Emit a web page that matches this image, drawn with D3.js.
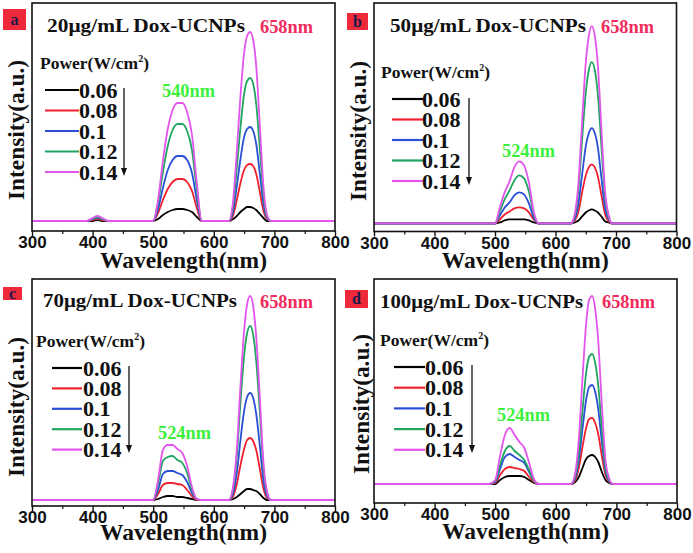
<!DOCTYPE html>
<html><head><meta charset="utf-8">
<script src="https://cdn.jsdelivr.net/npm/d3@7"></script>
<style>html,body{margin:0;padding:0;background:#fff;}svg{display:block;}</style>
</head><body>
<script>
// ---------- DATA ----------
const wavelengths = [300,390,400,408,416,426,490, 500,508,516,524,532,540,548,556,564,572,580, 625,632,638,644,650,655,660,665,670,676,682,688,694,800];
const powerLabels = ['0.06','0.08','0.1','0.12','0.14'];
const concentrations = ['20','50','70','100'];
const panelLetters = ['a','b','c','d'];
const greenPeakLabels = ['540nm','524nm','524nm','524nm'];
const redPeakLabel = '658nm';
const xTicks = [300,400,500,600,700,800];
const xMinorTicks = [350,450,550,650,750];

const intensityA = [
 [0,0,0,1,0,0,0, 0,2,6,9,11,12,12,11,9,4,0, 0,2,5,9,12,14,14,13,11,7,3,0,0,0],
 [0,0,1,2,1,0,0, 0,8,21,32,39,42,42,39,30,13,0, 0,6,21,38,51,56,57,55,47,29,10,2,0,0],
 [0,0,2,3,2,0,0, 0,12,33,51,61,65,65,61,48,21,0, 0,10,35,62,84,92,94,90,77,47,17,3,0,0],
 [0,0,2,4,2,0,0, 0,18,49,75,91,97,97,90,71,31,0, 0,16,53,94,127,140,143,137,117,72,26,4,0,0],
 [0,0,3,5,3,0,0, 0,21,60,92,111,118,118,109,86,38,0, 0,21,70,125,168,185,189,181,155,95,34,6,0,0]
];
const intensityB = [
 [0,0,0,0,0,0,0, 0,1,3,4,4,4,4,3,1,0,0, 0,1,3,7,11,13,14,13,11,7,2,1,0,0],
 [0,0,0,0,0,0,0, 0,4,9,12,15,16,15,11,4,0,0, 0,3,12,31,48,56,59,56,47,28,9,2,0,0],
 [0,0,0,0,0,0,0, 0,8,16,21,28,31,29,20,6,0,0, 0,5,20,49,77,90,95,90,76,45,15,4,0,0],
 [0,0,0,0,0,0,0, 0,12,24,33,43,48,45,32,10,0,0, 0,8,34,84,130,153,161,153,129,76,26,6,0,0],
 [0,0,0,0,0,0,0, 0,16,31,42,56,62,58,41,12,0,0, 0,10,41,102,160,187,197,187,158,93,32,8,0,0]
];
const intensityC = [
 [0,0,0,0,0,0,0, 0,1,3,4,4,3,3,2,1,0,0, 0,1,3,6,9,11,11,10,9,6,2,0,0,0],
 [0,0,0,0,0,0,0, 0,6,15,17,17,16,15,10,4,0,0, 0,4,16,35,51,60,62,59,50,31,11,2,0,0],
 [0,0,0,0,0,0,0, 0,10,26,29,29,27,25,18,7,1,0, 0,7,27,60,89,103,107,102,86,54,19,4,0,0],
 [0,0,0,0,0,0,0, 0,16,39,43,44,40,37,27,10,1,0, 0,12,44,97,144,167,174,165,139,87,31,7,0,0],
 [0,0,0,0,0,0,0, 0,20,50,55,55,51,47,34,13,1,0, 0,14,51,114,169,196,204,194,163,102,37,8,0,0]
];
const intensityD = [
 [0,0,0,0,0,0,0, 0,4,7,8,8,8,7,4,1,0,0, 0,2,7,16,25,28,29,27,22,12,4,1,0,0],
 [0,0,0,0,0,0,0, 1,9,15,17,16,15,13,7,2,0,0, 0,4,16,37,56,65,66,61,50,28,9,2,0,0],
 [0,0,0,0,0,0,0, 2,15,27,30,27,24,21,12,3,0,0, 0,6,24,55,84,97,99,92,75,42,13,3,0,0],
 [0,0,0,0,0,0,0, 3,19,33,38,33,29,24,14,3,0,0, 0,8,31,73,111,127,130,121,99,55,17,4,0,0],
 [0,0,0,0,0,0,0, 4,28,49,56,49,42,36,21,5,0,0, 0,11,45,105,160,184,188,175,143,79,24,6,0,0]
];
const allIntensity = [intensityA, intensityB, intensityC, intensityD];

// ---------- STYLE / LAYOUT ----------
const seriesColors = ['#000000','#f0202c','#2a4fd6','#1fa560','#e354ee'];
const serif = "'Liberation Serif','Times New Roman',serif";
const sans = "'Liberation Sans',Arial,sans-serif";

const layout = [
 {x0:32,x1:335,y0:3,y1:231,yd:[-10,218], box:[3,9,23,21], title:[47,32,198], red:[260,33], green:[162,97], power:[40,69], leg:{l0:45,l1:79,tx:79,y:90,dy:20.5}, arrow:[124,88,176], ylab:[24,130], xlabY:268},
 {x0:374,x1:676.5,y0:3,y1:231.5,yd:[-8,220], box:[347,13,21,17], title:[390,32,196], red:[601,33], green:[502,157], power:[381,78], leg:{l0:392,l1:423,tx:422,y:99,dy:20.5}, arrow:[469,98,185], ylab:[366,131], xlabY:268},
 {x0:32,x1:335,y0:279,y1:506,yd:[-6,221], box:[3,287,19,13], title:[43,307,194], red:[260,308], green:[158,439], power:[36,347], leg:{l0:52,l1:82,tx:83,y:368,dy:20.4}, arrow:[129,366,453], ylab:[24,407], xlabY:540},
 {x0:374,x1:677,y0:279,y1:503,yd:[-19,205], box:[345,290,23,18], title:[380,308,203], red:[602,308], green:[497,421], power:[380,346], leg:{l0:394,l1:425,tx:425,y:367,dy:20.7}, arrow:[472,365,453], ylab:[369,404], xlabY:539}
];

const svg = d3.select('body').append('svg').attr('width',693).attr('height',553);

layout.forEach((L, pi) => {
  const g = svg.append('g');
  const x = d3.scaleLinear().domain([300,800]).range([L.x0, L.x1]);
  const y = d3.scaleLinear().domain(L.yd).range([L.y1, L.y0]);
  const data = allIntensity[pi];

  // curves
  const line = d3.line().x(d => x(d[0])).y(d => y(d[1])).curve(d3.curveMonotoneX);
  data.forEach((vals, si) => {
    g.append('path').datum(wavelengths.map((w,i)=>[w, vals[i]]))
      .attr('d', line).attr('fill','none').attr('stroke', seriesColors[si])
      .attr('stroke-width',1.8).attr('stroke-linejoin','round');
  });

  // frame
  g.append('rect').attr('x',L.x0).attr('y',L.y0).attr('width',L.x1-L.x0).attr('height',L.y1-L.y0)
    .attr('fill','none').attr('stroke','#111').attr('stroke-width',1.6);

  // axis
  const ax = g.append('g').attr('transform',`translate(0,${L.y1})`)
    .call(d3.axisBottom(x).tickValues(xTicks).tickSize(5).tickPadding(0).tickFormat(d3.format('d')));
  ax.select('.domain').remove();
  ax.selectAll('line').attr('stroke','#111').attr('stroke-width',1.4);
  ax.selectAll('text').attr('font-family',sans).attr('font-weight','bold').attr('font-size',17).attr('fill','#111');
  const axm = g.append('g').attr('transform',`translate(0,${L.y1})`)
    .call(d3.axisBottom(x).tickValues(xMinorTicks).tickSize(3).tickFormat(''));
  axm.select('.domain').remove();
  axm.selectAll('line').attr('stroke','#111').attr('stroke-width',1.2);

  // axis titles
  g.append('text').attr('x',(L.x0+L.x1)/2).attr('y',L.xlabY).attr('text-anchor','middle')
    .attr('font-family',serif).attr('font-weight','bold').attr('font-size',24)
    .attr('textLength',167).attr('lengthAdjust','spacingAndGlyphs').attr('fill','#111').text('Wavelength(nm)');
  g.append('text').attr('transform',`translate(${L.ylab[0]},${L.ylab[1]}) rotate(-90)`).attr('text-anchor','middle')
    .attr('font-family',serif).attr('font-weight','bold').attr('font-size',23)
    .attr('textLength',140).attr('lengthAdjust','spacingAndGlyphs').attr('fill','#111').text('Intensity(a.u.)');

  // panel letter box
  g.append('rect').attr('x',L.box[0]).attr('y',L.box[1]).attr('width',L.box[2]).attr('height',L.box[3]).attr('fill','#ee2a3a');
  g.append('text').attr('x',L.box[0]+L.box[2]/2).attr('y',L.box[1]+L.box[3]/2+5).attr('text-anchor','middle')
    .attr('font-family',serif).attr('font-weight','bold').attr('font-size',16).attr('fill','#1a1a4e').text(panelLetters[pi]);

  // title
  g.append('text').attr('x',L.title[0]).attr('y',L.title[1]).attr('font-family',serif).attr('font-weight','bold')
    .attr('font-size',19).attr('textLength',L.title[2]).attr('lengthAdjust','spacingAndGlyphs').attr('fill','#111')
    .text(concentrations[pi] + 'μg/mL Dox-UCNPs');

  // peak labels
  g.append('text').attr('x',L.red[0]).attr('y',L.red[1]).attr('font-family',serif).attr('font-weight','bold')
    .attr('font-size',18).attr('textLength',53).attr('lengthAdjust','spacingAndGlyphs').attr('fill','#f02a5a').text(redPeakLabel);
  g.append('text').attr('x',L.green[0]).attr('y',L.green[1]).attr('font-family',serif).attr('font-weight','bold')
    .attr('font-size',18).attr('textLength',53).attr('lengthAdjust','spacingAndGlyphs').attr('fill','#3cf03c').text(greenPeakLabels[pi]);

  // power legend title
  const pt = g.append('text').attr('x',L.power[0]).attr('y',L.power[1]).attr('font-family',serif).attr('font-weight','bold')
    .attr('font-size',17.5).attr('fill','#111');
  pt.append('tspan').text('Power(W/cm');
  pt.append('tspan').attr('font-size',10).attr('dy',-7).text('2');
  pt.append('tspan').attr('dy',7).text(')');

  // legend entries
  powerLabels.forEach((p, si) => {
    const yy = L.leg.y + si*L.leg.dy;
    g.append('line').attr('x1',L.leg.l0).attr('x2',L.leg.l1).attr('y1',yy).attr('y2',yy)
      .attr('stroke',seriesColors[si]).attr('stroke-width',2.2);
    g.append('text').attr('x',L.leg.tx).attr('y',yy+7.5).attr('font-family',serif).attr('font-weight','bold')
      .attr('font-size',22).attr('fill','#111').text(p);
  });

  // arrow
  g.append('line').attr('x1',L.arrow[0]).attr('x2',L.arrow[0]).attr('y1',L.arrow[1]).attr('y2',L.arrow[2]-6)
    .attr('stroke','#111').attr('stroke-width',1.3);
  g.append('path').attr('d',`M${L.arrow[0]-3},${L.arrow[2]-8} L${L.arrow[0]+3},${L.arrow[2]-8} L${L.arrow[0]},${L.arrow[2]} Z`).attr('fill','#111');
});
</script>
</body></html>
